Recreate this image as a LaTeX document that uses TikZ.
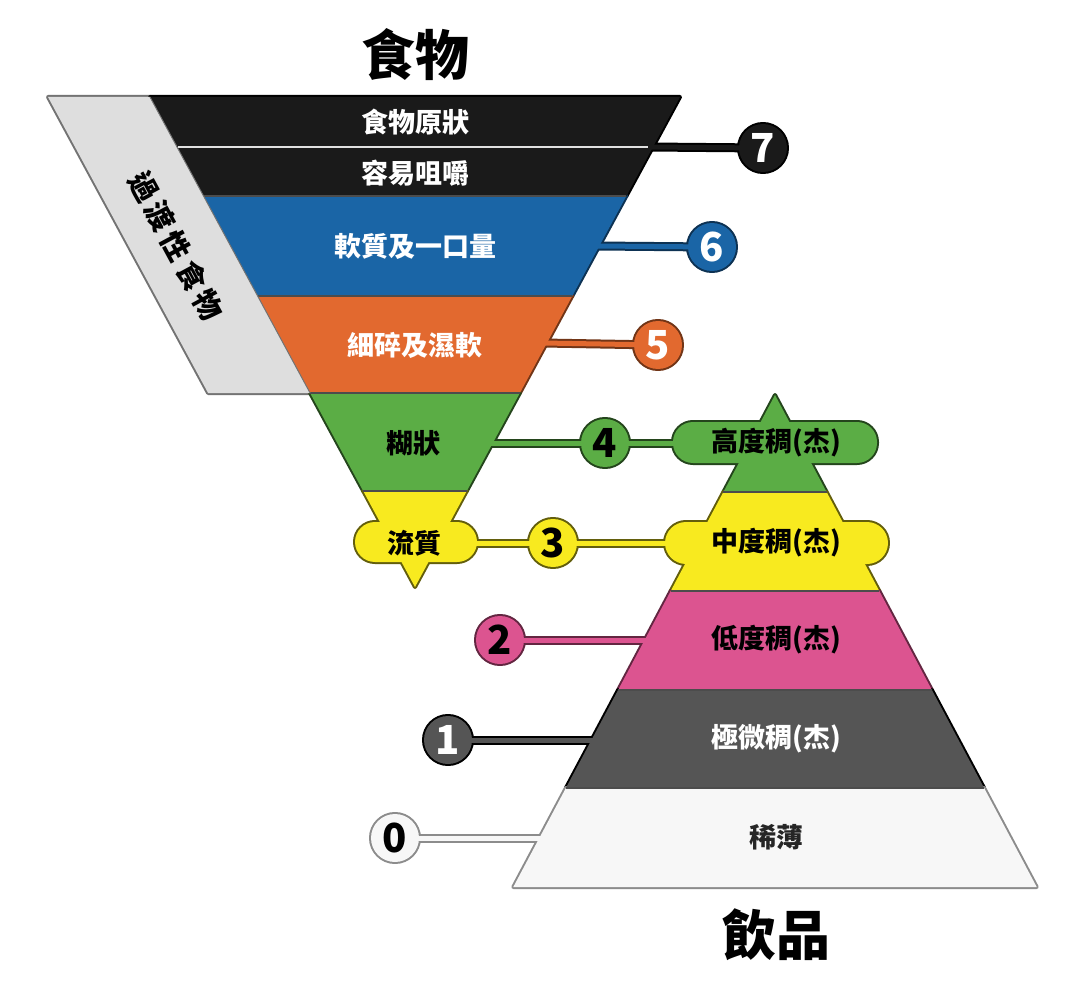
\documentclass[tikz,border=0pt]{standalone}
\usepackage{fontspec}
\newfontfamily\cjk{Noto Sans CJK TC}
\newfontfamily\cjkwide{Noto Sans CJK TC}[LetterSpace=16]
\definecolor{cblack}{HTML}{1A1A1A}
\definecolor{cblue}{HTML}{1A65A6}
\definecolor{corange}{HTML}{E2692F}
\definecolor{cgreen}{HTML}{5BAD45}
\definecolor{cyellow}{HTML}{F8EA1F}
\definecolor{cpink}{HTML}{DC5490}
\definecolor{cdgray}{HTML}{555555}
\definecolor{cwhite}{HTML}{F7F7F7}
\definecolor{cband}{HTML}{DEDEDE}
\colorlet{oblue}{cblue!50!black}
\colorlet{oorange}{corange!50!black}
\colorlet{ogreen}{cgreen!40!black}
\colorlet{oyellow}{cyellow!40!black}
\colorlet{opink}{cpink!45!black}
\colorlet{owhite}{black!45}
\def\fG{(48,97) -- (150,97) -- (310.1,393) -- (208.1,393) -- cycle}
\def\fA{(150,97) -- (680,97) -- (626.4,196) -- (203.6,196) -- cycle}
\def\fB{(203.6,196) -- (626.4,196) -- (572.3,296) -- (257.7,296) -- cycle}
\def\fC{(257.7,296) -- (572.3,296) -- (519.9,393) -- (310.1,393) -- cycle}
\def\fD{(310.1,393) -- (519.9,393) -- (466.8,491) -- (363.2,491) -- cycle}
\def\fE{(363.2,491) -- (466.8,491) -- (415,587) -- cycle}
\def\pA{(775,395) -- (826.6,492) -- (723.4,492) -- cycle}
\def\pB{(723.4,492) -- (826.6,492) -- (879.3,591) -- (670.7,591) -- cycle}
\def\pC{(670.7,591) -- (879.3,591) -- (931.9,690) -- (618.1,690) -- cycle}
\def\pD{(618.1,690) -- (931.9,690) -- (984.1,788) -- (565.9,788) -- cycle}
\def\pE{(565.9,788) -- (984.1,788) -- (1036.7,887) -- (513.3,887) -- cycle}
\tikzset{
  lbl/.style={font=\cjk\bfseries\fontsize{27}{30}\selectfont, inner sep=0pt},
  num/.style={font=\cjk\bfseries\fontsize{40}{42}\selectfont, inner sep=0pt},
  ttl/.style={font=\cjk\bfseries\fontsize{54}{58}\selectfont, inner sep=0pt},
  rim/.style={line width=4pt, line join=round},
  tubeout/.style={line width=9pt},
  tubein/.style={line width=5pt},
  sep/.style={line width=1.3pt, black!70},
  pill/.style={rounded corners=20pt}
}
\begin{document}
\begin{tikzpicture}[x=1pt,y=-1pt]
\useasboundingbox (0,0) rectangle (1080,987);
\fill[white] (0,0) rectangle (1080,987);
% circle centres
\coordinate (c7) at (763,148);
\coordinate (c6) at (712,247);
\coordinate (c5) at (658,345);
\coordinate (c4) at (605,443);
\coordinate (c3) at (553,543);
\coordinate (c2) at (500,640);
\coordinate (c1) at (448,740);
\coordinate (c0) at (395,838);
% connector ends (just inside the shapes)
\coordinate (e7) at (649,147);
\coordinate (e6) at (596,246);
\coordinate (e5) at (543,343);
\coordinate (e4) at (489,443);
\coordinate (e4b) at (682,443);
\coordinate (e3a) at (470,543);
\coordinate (e3b) at (674,543);
\coordinate (e2) at (648,640);
\coordinate (e1) at (595,740);
\coordinate (e0) at (543,838);
% ---------- outline pass ----------
\begin{scope}[rim]
\draw[black!55] \fG;
\draw[black] \fA;
\draw[oblue] \fB;
\draw[oorange] \fC;
\draw[ogreen] \fD;
\draw[oyellow] \fE;
\draw[oyellow, pill] (355,522) rectangle (477,562);
\draw[ogreen] \pA;
\draw[oyellow] \pB;
\draw[opink] \pC;
\draw[black] \pD;
\draw[owhite] \pE;
\draw[ogreen, pill] (673,422) rectangle (877,463);
\draw[oyellow, rounded corners=21pt] (665,522) rectangle (888,564);
\draw[black] (c7) circle (24);
\draw[oblue] (c6) circle (24);
\draw[oorange] (c5) circle (24);
\draw[ogreen] (c4) circle (24);
\draw[oyellow] (c3) circle (24);
\draw[opink] (c2) circle (24);
\draw[black] (c1) circle (24);
\draw[owhite] (c0) circle (24);
\end{scope}
\begin{scope}[tubeout]
\draw[black] (e7) -- (c7);
\draw[oblue] (e6) -- (c6);
\draw[oorange] (e5) -- (c5);
\draw[ogreen] (e4) -- (c4) -- (e4b);
\draw[oyellow] (e3a) -- (c3) -- (e3b);
\draw[opink] (c2) -- (e2);
\draw[black] (c1) -- (e1);
\draw[owhite] (c0) -- (e0);
\end{scope}
% ---------- fill pass ----------
\fill[cband] \fG;
\fill[cblack] \fA;
\fill[cblue] \fB;
\fill[corange] \fC;
\fill[cgreen] \fD;
\fill[cyellow] \fE;
\fill[cyellow, pill] (355,522) rectangle (477,562);
\fill[cgreen] \pA;
\fill[cyellow] \pB;
\fill[cpink] \pC;
\fill[cdgray] \pD;
\fill[cwhite] \pE;
\fill[cgreen, pill] (673,422) rectangle (877,463);
\fill[cyellow, rounded corners=21pt] (665,522) rectangle (888,564);
\fill[cblack] (c7) circle (24);
\fill[cblue] (c6) circle (24);
\fill[corange] (c5) circle (24);
\fill[cgreen] (c4) circle (24);
\fill[cyellow] (c3) circle (24);
\fill[cpink] (c2) circle (24);
\fill[cdgray] (c1) circle (24);
\fill[cwhite] (c0) circle (24);
\begin{scope}[tubein]
\draw[cblack] (e7) -- (c7);
\draw[cblue] (e6) -- (c6);
\draw[corange] (e5) -- (c5);
\draw[cgreen] (e4) -- (c4) -- (e4b);
\draw[cyellow] (e3a) -- (c3) -- (e3b);
\draw[cpink] (c2) -- (e2);
\draw[cdgray] (c1) -- (e1);
\draw[cwhite] (c0) -- (e0);
\end{scope}
% band separators
\draw[sep] (203.6,196) -- (626.4,196);
\draw[sep] (257.7,296) -- (572.3,296);
\draw[sep] (310.1,393) -- (519.9,393);
\draw[sep] (363.2,491) -- (466.8,491);
\draw[sep] (723.4,492) -- (826.6,492);
\draw[sep] (670.7,591) -- (879.3,591);
\draw[sep] (618.1,690) -- (931.9,690);
\draw[sep] (565.9,788) -- (984.1,788);
\draw[line width=1pt, black!55] (150,97) -- (310.1,393);
\draw[line width=2.5pt, black!12] (178,147) -- (648,147);
% ---------- texts ----------
\node[ttl] (tfood) at (415,55) {食物};
\node[ttl] (tdrink) at (776,935) {飲品};
\node[inner sep=0pt, rotate=-61.6, font=\cjkwide\bfseries\fontsize{29}{32}\selectfont] (ttrans) at (176,246) {過渡性食物};
\node[lbl, white] (l7a) at (415,122) {食物原狀};
\node[lbl, white] (l7b) at (415,173) {容易咀嚼};
\node[lbl, white] (l6) at (415,246) {軟質及一口量};
\node[lbl, white] (l5) at (415,345) {細碎及濕軟};
\node[lbl] (l4) at (413,443) {糊狀};
\node[lbl] (l3) at (414,543) {流質};
\node[lbl] (d4) at (776,443) {高度稠(杰)};
\node[lbl] (d3) at (776,543) {中度稠(杰)};
\node[lbl] (d2) at (776,640) {低度稠(杰)};
\node[lbl, white] (d1) at (776,739) {極微稠(杰)};
\node[lbl, black!85] (d0) at (776,837) {稀薄};
\node[num, white] (n7) at (c7) {7};
\node[num, white] (n6) at (c6) {6};
\node[num, white] (n5) at (c5) {5};
\node[num] (n4) at (c4) {4};
\node[num] (n3) at (c3) {3};
\node[num] (n2) at (c2) {2};
\node[num, white] (n1) at (c1) {1};
\node[num] (n0) at (c0) {0};
\end{tikzpicture}
\end{document}
